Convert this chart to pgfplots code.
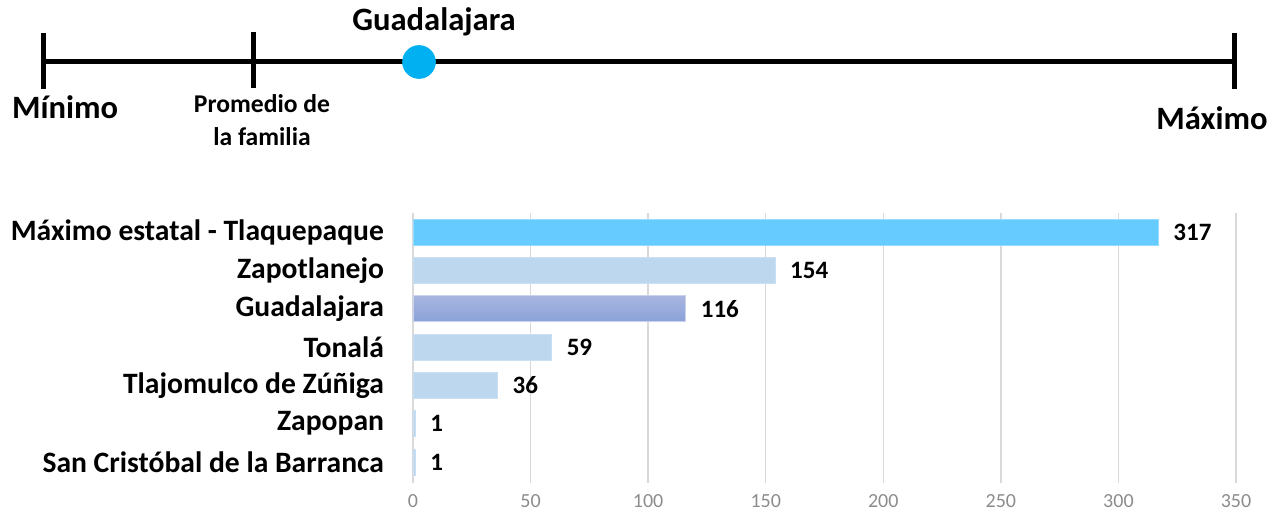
\documentclass[border=0pt]{standalone}
\usepackage{pgfplots}
\pgfplotsset{compat=1.18}
\usepackage{fontspec}
\setmainfont{Carlito}
\definecolor{barmax}{HTML}{66CCFF}
\definecolor{barlight}{HTML}{BDD7EE}
\definecolor{gdltop}{HTML}{A9B5E0}
\definecolor{gdlbot}{HTML}{8AA2D8}
\definecolor{dotblue}{HTML}{00B0F0}
\definecolor{gridgray}{HTML}{D9D9D9}
\definecolor{ticklab}{HTML}{8C8C8C}
\begin{document}
\begin{tikzpicture}
% frame axis in pixel units (1px = 0.5pt)
\begin{axis}[name=frame, at={(0,0)}, anchor=south west,
  scale only axis, width=640pt, height=260pt,
  xmin=0, xmax=1280, ymin=0, ymax=520, y dir=reverse,
  hide axis, clip=false]
  \addplot[line width=2.5pt, black] coordinates {(43,62) (1234,62)};
  \addplot[line width=2.5pt, black] coordinates {(43,33) (43,89)};
  \addplot[line width=2.5pt, black] coordinates {(253,32) (253,88)};
  \addplot[line width=2.5pt, black] coordinates {(1234,33) (1234,89)};
  \addplot[only marks, mark=*, mark size=8.2pt, dotblue, mark options={draw=dotblue, fill=dotblue}] coordinates {(419,62)};
  \node[font=\fontsize{16.3}{19}\selectfont\bfseries, anchor=west] at (axis cs:5,107) {Mínimo};
  \node[font=\fontsize{12.8}{16.5}\selectfont\bfseries, align=center] at (axis cs:262,120) {Promedio de\\la familia};
  \node[font=\fontsize{16.3}{19}\selectfont\bfseries] at (axis cs:434,22) {Guadalajara};
  \node[font=\fontsize{16.3}{19}\selectfont\bfseries] at (axis cs:1212,118) {Máximo};
\end{axis}
\path (0,0) rectangle (640pt,260pt);
% bar chart
\begin{axis}[at={(206.5pt,18.5pt)}, anchor=south west,
  scale only axis, width=411.5pt, height=135pt,
  xbar, bar width=13pt, bar shift=0pt,
  xmin=0, xmax=350, ymin=-0.55, ymax=6.5,
  xtick={0,50,...,350},
  xmajorgrids, grid style={gridgray, line width=0.75pt},
  axis line style={draw=none}, major tick length=0pt,
  ytick={0,...,6},
  yticklabels={San Cristóbal de la Barranca, Zapopan, Tlajomulco de Zúñiga, Tonalá, Guadalajara, Zapotlanejo, Máximo estatal - Tlaquepaque},
  yticklabel style={font=\fontsize{14.8}{17}\selectfont\bfseries, xshift=-11pt},
  xticklabel style={font=\fontsize{10}{12}\selectfont, text=ticklab, yshift=-2pt},
  /pgf/number format/assume math mode=true,
  nodes near coords, nodes near coords align={horizontal},
  every node near coord/.append style={font=\fontsize{12.5}{15}\selectfont\bfseries, black, anchor=west, xshift=4pt},
  clip=false]
  \addplot[fill=barmax, draw=barmax!70!white] coordinates {(317,6)};
  \addplot[fill=barlight, draw=barlight!80!white] coordinates {(154,5) (59,3) (36,2) (1,1) (1,0)};
  \addplot[top color=gdltop, bottom color=gdlbot, draw=gdltop!60!white] coordinates {(116,4)};
\end{axis}
\end{tikzpicture}
\end{document}
